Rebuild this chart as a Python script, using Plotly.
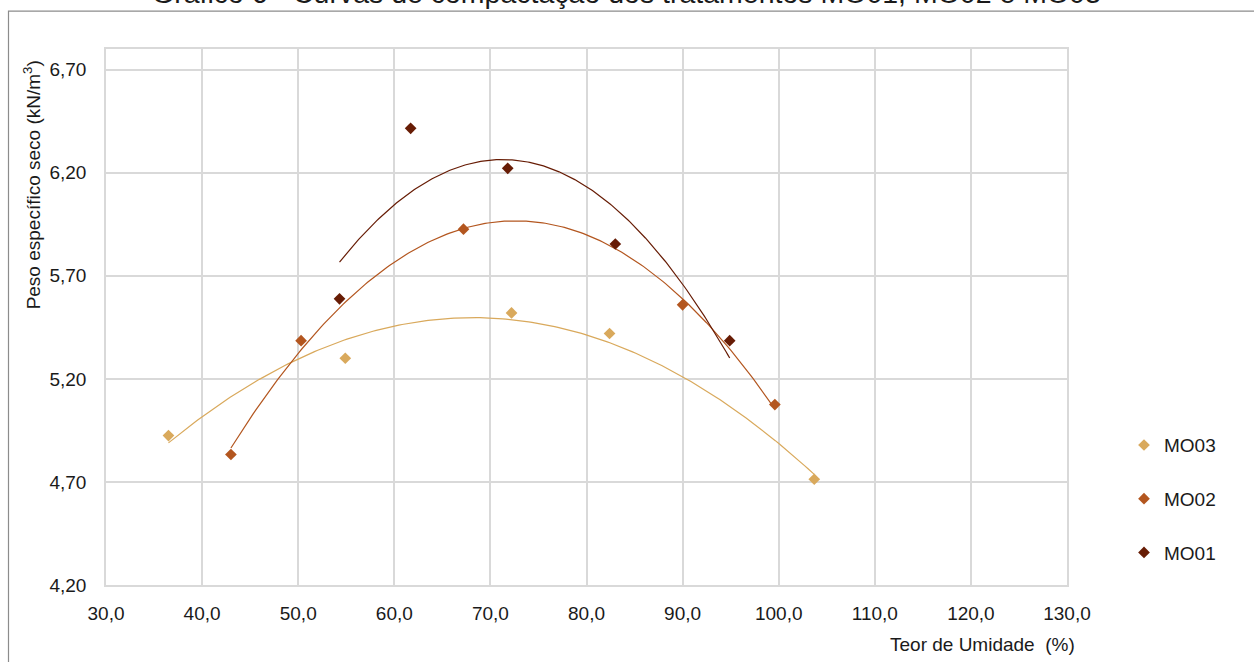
import numpy as np
import plotly.graph_objects as go

# ---- data ----
series_names = ["MO03", "MO02", "MO01"]
mo03_x = [36.5, 54.9, 72.2, 82.4, 103.7]
mo03_y = [4.925, 5.30, 5.52, 5.42, 4.713]
mo02_x = [43.0, 50.3, 67.2, 90.0, 99.6]
mo02_y = [4.833, 5.385, 5.926, 5.559, 5.075]
mo01_x = [54.3, 61.7, 71.8, 83.0, 94.9]
mo01_y = [5.588, 6.415, 6.221, 5.854, 5.385]
colors = ["#D9A95C", "#B3561F", "#671C05"]

title_text = "Gráfico 6 - Curvas de compactação dos tratamentos MO01, MO02 e MO03"
x_title = "Teor de Umidade  (%)"
y_title = "Peso específico seco (kN/m<sup>3</sup>)"

W, H = 1254, 662
L, R, T, B = 106, 187, 48.5, 77
pw, ph = W - L - R, H - T - B

def px_x(p):
    return (p - L) / pw

def px_y(p):
    return (H - B - p) / ph

FONT = "Liberation Sans, Arial, sans-serif"
fig = go.Figure()

data = [(mo03_x, mo03_y), (mo02_x, mo02_y), (mo01_x, mo01_y)]
for name, (xs, ys), c in zip(series_names, data, colors):
    # polynomial (order 2) trendline, as in the spreadsheet chart
    coef = np.polyfit(xs, ys, 2)
    xf = np.linspace(min(xs), max(xs), 200)
    yf = np.polyval(coef, xf)
    fig.add_trace(go.Scatter(x=xf, y=yf, mode="lines", line=dict(color=c, width=1.2),
                             showlegend=False, hoverinfo="skip", legendgroup=name))
for name, (xs, ys), c in zip(series_names, data, colors):
    fig.add_trace(go.Scatter(x=xs, y=ys, mode="markers", name=name, legendgroup=name,
                             marker=dict(symbol="diamond", size=9, color=c, line=dict(width=0))))

axis_common = dict(showgrid=True, gridcolor="#D9D9D9", gridwidth=1.5, zeroline=False,
                   showline=True, linecolor="#D9D9D9", linewidth=1.5, mirror=True,
                   tickfont=dict(family=FONT, size=19, color="#1a1a1a"), ticks="")
fig.update_xaxes(range=[30, 130], tick0=30, dtick=10, tickformat=".1f",
                 ticklabelstandoff=10, **axis_common)
fig.update_yaxes(range=[4.2, 6.8], tick0=4.2, dtick=0.5, tickformat=".2f",
                 ticklabelstandoff=14, **axis_common)

fig.update_layout(
    width=W, height=H, separators=",.",
    margin=dict(l=L, r=R, t=T, b=B),
    paper_bgcolor="white", plot_bgcolor="white",
    font=dict(family=FONT, size=19, color="#1a1a1a"),
    showlegend=True,
    legend=dict(x=px_x(1124), y=px_y(426), xanchor="left", yanchor="top",
                tracegroupgap=26, itemwidth=30, traceorder="grouped",
                font=dict(family=FONT, size=19, color="#1a1a1a"), bgcolor="rgba(0,0,0,0)"),
    shapes=[dict(type="rect", xref="paper", yref="paper",
                 x0=px_x(8.5), x1=px_x(1270), y0=px_y(680), y1=px_y(10.5),
                 line=dict(color="#8C8C8C", width=1.2), fillcolor="rgba(0,0,0,0)", layer="below")],
    annotations=[
        dict(text=title_text, xref="paper", yref="paper", x=px_x(626), y=px_y(-7.5),
             xanchor="center", yanchor="middle", showarrow=False,
             font=dict(family=FONT, size=28.5, color="#1a1a1a")),
        dict(text=x_title, xref="paper", yref="paper", x=px_x(982), y=px_y(645),
             xanchor="center", yanchor="middle", showarrow=False,
             font=dict(family=FONT, size=19, color="#1a1a1a")),
        dict(text=y_title, xref="paper", yref="paper", x=px_x(32), y=px_y(185),
             xanchor="center", yanchor="middle", showarrow=False, textangle=-90,
             font=dict(family=FONT, size=19, color="#1a1a1a")),
    ],
)

fig.write_html("out.html", config={"displayModeBar": False},
               post_script="document.body.style.margin='0';document.body.style.overflow='hidden';")
